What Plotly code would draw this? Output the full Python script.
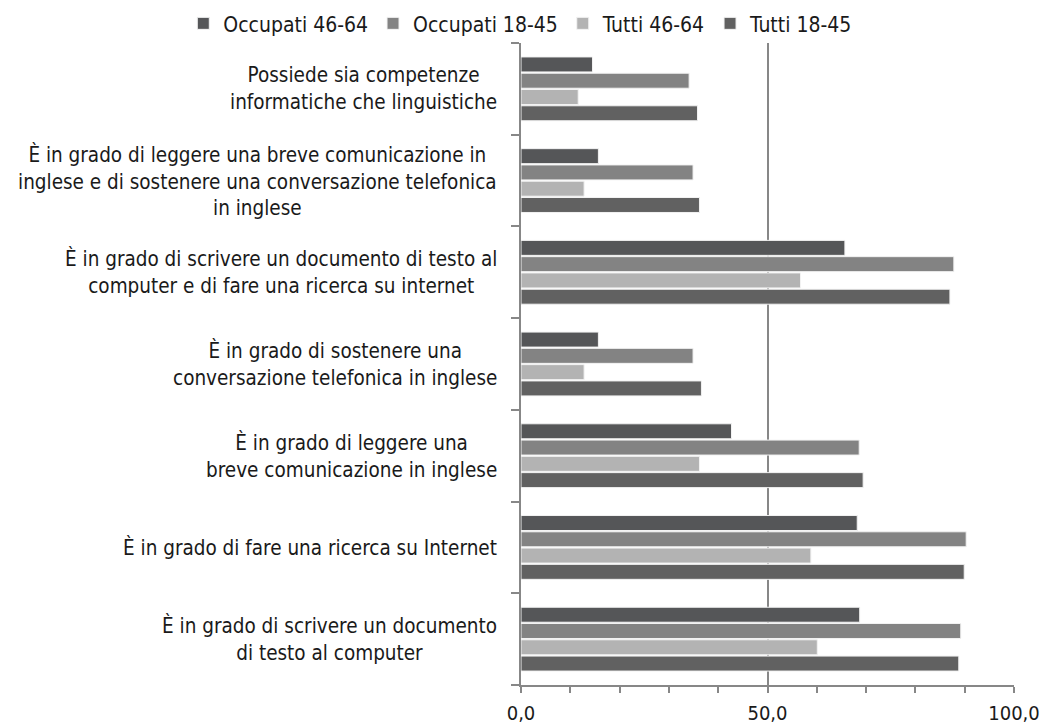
import plotly.graph_objects as go

# Categories, listed top to bottom
categories = [
    "Possiede sia competenze<br>informatiche che linguistiche",
    "È in grado di leggere una breve comunicazione in<br>inglese e di sostenere una conversazione telefonica<br>in inglese",
    "È in grado di scrivere un documento di testo al<br>computer e di fare una ricerca su internet",
    "È in grado di sostenere una<br>conversazione telefonica in inglese",
    "È in grado di leggere una<br>breve comunicazione in inglese",
    "È in grado di fare una ricerca su Internet",
    "È in grado di scrivere un documento<br>di testo al computer",
]

series_names = ["Occupati 46-64", "Occupati 18-45", "Tutti 46-64", "Tutti 18-45"]
occupati_46_64 = [14.5, 15.7, 65.7, 15.7, 42.7, 68.2, 68.7]
occupati_18_45 = [34.1, 34.9, 87.8, 34.9, 68.6, 90.3, 89.2]
tutti_46_64 = [11.6, 12.8, 56.7, 12.8, 36.2, 58.8, 60.1]
tutti_18_45 = [35.8, 36.2, 87.0, 36.6, 69.4, 89.9, 88.8]

x_ticks = [0, 50, 100]

series_values = [occupati_46_64, occupati_18_45, tutti_46_64, tutti_18_45]
colors = ["#555658", "#838383", "#b3b3b3", "#616161"]

FONT = "DejaVu Sans Condensed, DejaVu Sans, sans-serif"
AXIS_GREY = "#878787"
TEXT = "#1a1a1a"

n_cat = len(categories)
cat_pos = list(range(n_cat))
# tick marks sit on the boundaries between category bands
boundaries = [i - 0.5 for i in range(n_cat + 1)]

fig = go.Figure()
for name, vals, col in zip(series_names, series_values, colors):
    fig.add_trace(go.Bar(
        y=cat_pos,
        x=vals,
        name=name,
        orientation="h",
        marker=dict(color=col, line=dict(color="#f2f2f2", width=1)),
    ))

# Category labels: right-aligned block, lines centred within it
for i, label in enumerate(categories):
    fig.add_annotation(
        x=0, xref="paper", y=i, yref="y",
        text=label, showarrow=False,
        xanchor="right", yanchor="middle", align="center",
        xshift=-22,
        font=dict(family=FONT, size=20.5, color=TEXT),
    )

fig.update_layout(
    width=1045, height=727,
    margin=dict(l=521, r=31, t=43, b=42, autoexpand=False),
    paper_bgcolor="white", plot_bgcolor="white",
    separators=",.",
    barmode="group",
    bargap=0.29,
    bargroupgap=0.08,
    font=dict(family=FONT, size=20, color=TEXT),
    showlegend=True,
    legend=dict(
        orientation="h",
        xref="paper", yref="paper",
        x=-0.685, xanchor="left",
        y=1.062, yanchor="top",
        itemwidth=30,
        font=dict(family=FONT, size=21, color=TEXT),
        bgcolor="rgba(0,0,0,0)",
        traceorder="normal",
    ),
    xaxis=dict(
        range=[0, 100],
        tickvals=x_ticks,
        tickformat=".1f",
        showgrid=True, gridcolor=AXIS_GREY, gridwidth=2,
        zeroline=False,
        showline=True, linecolor=AXIS_GREY, linewidth=2,
        ticks="outside", ticklen=6, tickwidth=2, tickcolor=AXIS_GREY,
        minor=dict(dtick=10, ticks="outside", ticklen=6, tickwidth=2,
                   tickcolor=AXIS_GREY, showgrid=False),
        ticklabelstandoff=3,
        tickfont=dict(family=FONT, size=20, color=TEXT),
        fixedrange=True,
    ),
    yaxis=dict(
        range=[n_cat - 0.5, -0.5],
        tickvals=boundaries,
        showticklabels=False,
        ticks="outside", ticklen=8, tickwidth=2, tickcolor=AXIS_GREY,
        showgrid=False, zeroline=False,
        showline=True, linecolor=AXIS_GREY, linewidth=2,
        fixedrange=True,
    ),
)

fig.write_html("out.html")
